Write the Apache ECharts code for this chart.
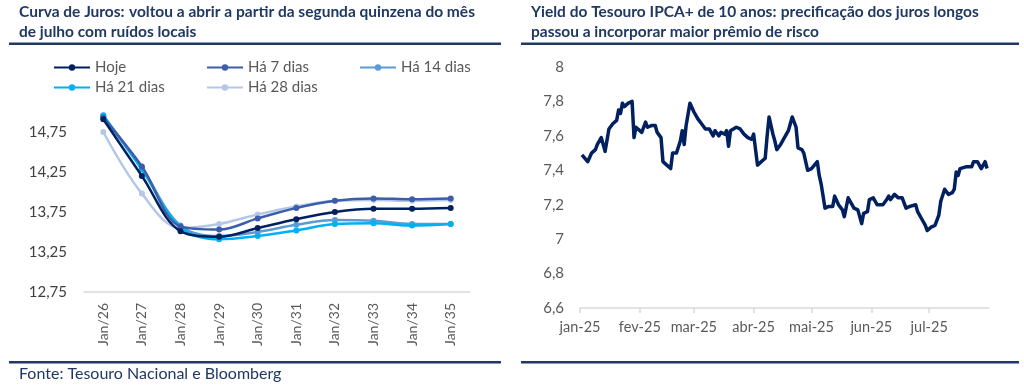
<!DOCTYPE html>
<html>
<head>
<meta charset="utf-8">
<script src="https://cdn.jsdelivr.net/npm/echarts@6/dist/echarts.min.js"></script>
<style>
html,body{margin:0;padding:0;background:#fff;}
#c{width:1024px;height:386px;}
</style>
</head>
<body>
<div id="c"></div>
<script>
// ---- Left chart data (Curva de Juros) ----
const categories = ['Jan/26','Jan/27','Jan/28','Jan/29','Jan/30','Jan/31','Jan/32','Jan/33','Jan/34','Jan/35'];
const hoje   = [14.91, 14.20, 13.51, 13.44, 13.55, 13.66, 13.75, 13.79, 13.79, 13.80];
const dias7  = [14.93, 14.32, 13.57, 13.53, 13.67, 13.80, 13.89, 13.92, 13.91, 13.92];
const dias14 = [14.95, 14.30, 13.58, 13.45, 13.50, 13.59, 13.65, 13.64, 13.60, 13.60];
const dias21 = [14.96, 14.28, 13.56, 13.41, 13.45, 13.52, 13.60, 13.61, 13.58, 13.60];
const dias28 = [14.75, 13.98, 13.55, 13.60, 13.72, 13.82, 13.89, 13.90, 13.89, 13.90];
const seriesNames = ['Hoje','Há 7 dias','Há 14 dias','Há 21 dias','Há 28 dias'];

// ---- Right chart data (Yield IPCA+ 10 anos) ----
const yieldDates = [
 '2025-01-02','2025-01-03','2025-01-05','2025-01-07','2025-01-08','2025-01-09','2025-01-10','2025-01-12','2025-01-14','2025-01-16','2025-01-18','2025-01-20','2025-01-21','2025-01-22','2025-01-23','2025-01-24','2025-01-26','2025-01-27','2025-01-28','2025-01-29','2025-01-30',
 '2025-02-02','2025-02-03','2025-02-04','2025-02-05','2025-02-07','2025-02-09','2025-02-10','2025-02-12','2025-02-13','2025-02-15','2025-02-17','2025-02-18','2025-02-20','2025-02-22','2025-02-23','2025-02-24','2025-02-25','2025-02-27',
 '2025-03-01','2025-03-03','2025-03-05','2025-03-06','2025-03-07','2025-03-09','2025-03-10','2025-03-11','2025-03-12','2025-03-14','2025-03-15','2025-03-17','2025-03-18','2025-03-19','2025-03-20','2025-03-21','2025-03-23','2025-03-25','2025-03-27','2025-03-29','2025-03-31',
 '2025-04-01','2025-04-03','2025-04-04','2025-04-05','2025-04-07','2025-04-08','2025-04-09','2025-04-11','2025-04-12','2025-04-13','2025-04-15','2025-04-16','2025-04-19','2025-04-21','2025-04-23','2025-04-24','2025-04-26','2025-04-27','2025-04-29',
 '2025-05-01','2025-05-04','2025-05-05','2025-05-06','2025-05-08','2025-05-10','2025-05-11','2025-05-12','2025-05-13','2025-05-15','2025-05-17','2025-05-18','2025-05-20','2025-05-22','2025-05-23','2025-05-25','2025-05-27','2025-05-28','2025-05-30','2025-05-31',
 '2025-06-02','2025-06-04','2025-06-05','2025-06-07','2025-06-09','2025-06-10','2025-06-11','2025-06-13','2025-06-15','2025-06-17','2025-06-18','2025-06-19','2025-06-21','2025-06-24','2025-06-25','2025-06-27','2025-06-29','2025-06-30',
 '2025-07-02','2025-07-04','2025-07-06','2025-07-07','2025-07-09','2025-07-10','2025-07-11','2025-07-13','2025-07-14','2025-07-15','2025-07-16','2025-07-17','2025-07-20','2025-07-21','2025-07-23','2025-07-24','2025-07-26','2025-07-27','2025-07-28','2025-07-29','2025-07-30','2025-07-31'
];
const yieldValues = [
 7.49,7.49,7.45,7.50,7.49,7.52,7.55,7.59,7.51,7.64,7.67,7.69,7.75,7.73,7.79,7.77,7.79,7.79,7.80,7.59,7.65,
 7.62,7.61,7.68,7.65,7.66,7.66,7.62,7.59,7.45,7.43,7.41,7.50,7.50,7.57,7.63,7.55,7.66,7.79,
 7.74,7.70,7.67,7.68,7.64,7.64,7.63,7.60,7.63,7.60,7.62,7.61,7.63,7.54,7.63,7.62,7.65,7.64,7.61,7.59,7.58,
 7.61,7.43,7.42,7.45,7.47,7.60,7.71,7.61,7.57,7.52,7.55,7.56,7.63,7.71,7.65,7.53,7.52,7.50,7.40,
 7.41,7.45,7.37,7.32,7.18,7.19,7.20,7.19,7.25,7.20,7.17,7.13,7.24,7.20,7.18,7.17,7.09,7.15,7.16,7.23,
 7.24,7.20,7.19,7.20,7.23,7.25,7.23,7.26,7.24,7.24,7.23,7.18,7.19,7.20,7.16,7.12,7.08,7.05,
 7.07,7.08,7.14,7.22,7.29,7.30,7.26,7.27,7.29,7.39,7.37,7.41,7.42,7.43,7.42,7.45,7.45,7.46,7.41,7.42,7.45,7.41
];
const monthLabels = ['jan-25','fev-25','mar-25','abr-25','mai-25','jun-25','jul-25'];

const FONT = 'Lato, "Noto Sans", sans-serif';
const NAVY = '#1F3864';
const colors = ['#002060','#3B5DAA','#5B9BD5','#00B0F0','#B4C7E7'];
const seriesData = [hoje, dias7, dias14, dias21, dias28];

const chart = echarts.init(document.getElementById('c'), null, {renderer:'canvas'});

const legendPos = [[48,55],[201,55],[354,55],[48,75],[201,75]];

const leftSeries = seriesNames.map((n,i)=>({
  name:n, type:'line', xAxisIndex:0, yAxisIndex:0, data:seriesData[i],
  smooth:0.35, symbol:'circle', symbolSize:6, showSymbol:true,
  lineStyle:{color:colors[i], width:2.5}, itemStyle:{color:colors[i]},
  z: [6,5,3,4,2][i]
}));

const fmt = v => String(+Number(v).toFixed(2)).replace('.', ',');
const richT = {b:{fontWeight:'bold',fontSize:15.5,color:NAVY,fontFamily:FONT,lineHeight:20},n:{fontSize:15.5,color:NAVY,fontFamily:FONT,lineHeight:20}};

chart.setOption({
  animation:false,
  textStyle:{fontFamily:FONT},
  title:[
    {left:19, top:2, padding:0, text:'{b|Curva de Juros:} {n|voltou a abrir a partir da segunda quinzena do mês}\n{n|de julho com ruídos locais}',
     textStyle:{rich:richT}},
    {left:531, top:2, padding:0, text:'{b|Yield do Tesouro IPCA+ de 10 anos:} {n|precificação dos juros longos}\n{n|passou a incorporar maior prêmio de risco}',
     textStyle:{rich:richT}}
  ],
  legend: seriesNames.map((n,i)=>({
    data:[n], left:legendPos[i][0], top:legendPos[i][1], itemWidth:36, itemHeight:8, itemGap:5,
    textStyle:{color:'#595959', fontSize:15, fontFamily:FONT}, selectedMode:false
  })),
  graphic:[
    {type:'rect', shape:{x:9,y:42.5,width:492,height:2.5}, style:{fill:NAVY}},
    {type:'rect', shape:{x:521,y:42.5,width:498,height:2.5}, style:{fill:NAVY}},
    {type:'rect', shape:{x:9,y:361,width:492,height:2.5}, style:{fill:NAVY}},
    {type:'rect', shape:{x:521,y:361,width:498,height:2.5}, style:{fill:NAVY}},
    {type:'text', left:19, top:366, style:{text:'Fonte: Tesouro Nacional e Bloomberg', fill:NAVY, fontSize:16, fontFamily:FONT}}
  ],
  grid:[
    {left:84, top:92, width:386, height:200, containLabel:false},
    {left:580, top:67, width:409, height:241, containLabel:false}
  ],
  xAxis:[
    {type:'category', gridIndex:0, data:categories, boundaryGap:true,
     axisLine:{lineStyle:{color:'#D9D9D9', width:1.5}}, axisTick:{show:false},
     axisLabel:{rotate:90, color:'#595959', fontSize:14, margin:11, fontFamily:FONT}},
    {type:'time', gridIndex:1, min:'2025-01-01', max:'2025-08-01',
     minInterval:28*86400000, maxInterval:31*86400000, splitNumber:7,
     axisLine:{lineStyle:{color:'#D9D9D9', width:1.5}},
     axisTick:{show:true, length:5, lineStyle:{color:'#D9D9D9', width:1.5}},
     splitLine:{show:false},
     axisLabel:{color:'#595959', fontSize:14.5, margin:12, fontFamily:FONT, hideOverlap:false,
       formatter:(val)=>{const d=new Date(val); const m=d.getMonth(); return (d.getFullYear()===2025 && m<monthLabels.length)? monthLabels[m] : '';}}}
  ],
  yAxis:[
    {type:'value', gridIndex:0, min:12.75, max:15.25, interval:0.5,
     splitLine:{show:false}, axisLine:{show:false}, axisTick:{show:false},
     axisLabel:{color:'#404040', fontSize:15, margin:17, showMaxLabel:false, fontFamily:FONT, formatter:fmt}},
    {type:'value', gridIndex:1, min:6.6, max:8, interval:0.2,
     splitLine:{show:false}, axisLine:{show:false}, axisTick:{show:false},
     axisLabel:{color:'#595959', fontSize:15, margin:16, fontFamily:FONT, formatter:fmt}}
  ],
  series:[
    ...leftSeries,
    {name:'IPCA+ 10 anos', type:'line', xAxisIndex:1, yAxisIndex:1,
     data: yieldDates.map((d,i)=>[d, yieldValues[i]]),
     showSymbol:false, symbol:'none', lineStyle:{color:'#002060', width:3.5, join:'round'}, itemStyle:{color:'#002060'}}
  ]
});
</script>
</body>
</html>
